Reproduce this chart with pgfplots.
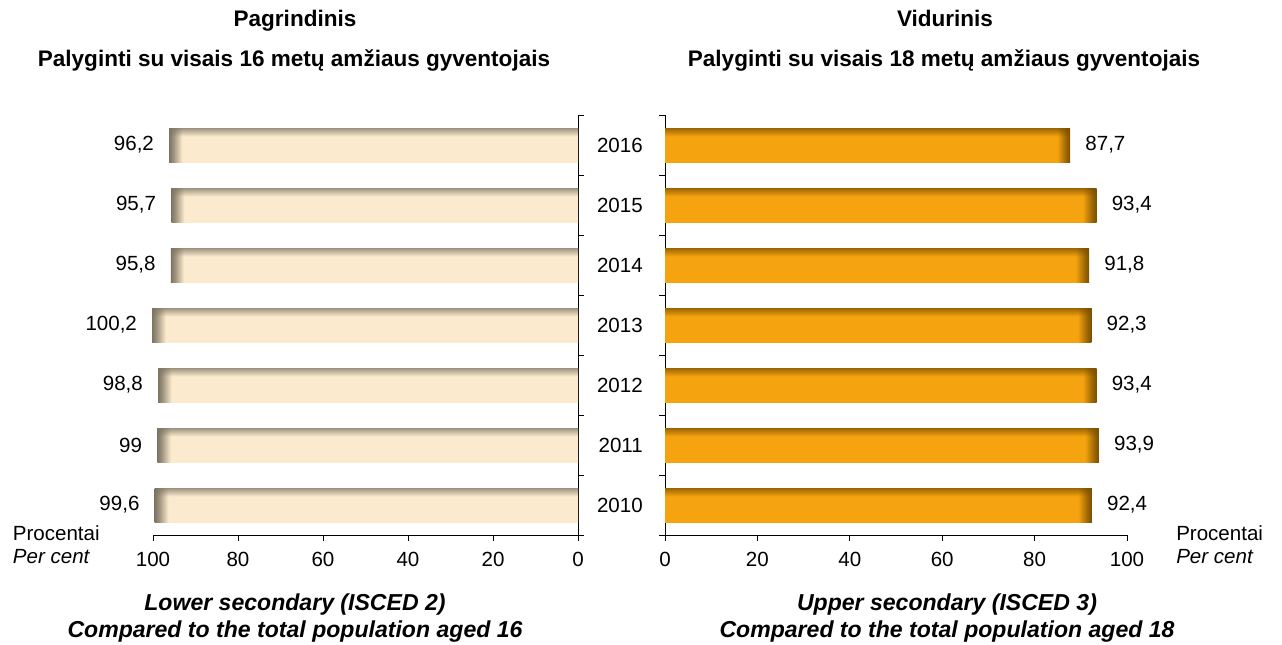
\documentclass[border=0pt]{standalone}
\usepackage{fontspec}
\setmainfont{Liberation Sans}
\usepackage{pgfplots}
\usepackage{pgfplotstable}
\pgfplotsset{compat=1.18}
\usetikzlibrary{fadings}

\definecolor{fillL}{HTML}{FBEACD}
\definecolor{shL}{HTML}{7D7463}
\definecolor{fillR}{HTML}{F5A30F}
\definecolor{shR}{HTML}{7A4F00}

\pgfdeclarehorizontalshading{leftend}{100bp}{color(0bp)=(shL); color(25bp)=(shL); color(25.5bp)=(shL!75!fillL); color(26.6bp)=(fillL); color(100bp)=(fillL)}
\pgfdeclarehorizontalshading{rightend}{100bp}{color(0bp)=(fillR); color(73.4bp)=(fillR); color(74.5bp)=(shR!75!fillR); color(75bp)=(shR); color(100bp)=(shR)}

\begin{tikzfadingfrompicture}[name=topedge]
\fill[transparent!100] (-1cm,-1cm) rectangle (1cm,1cm);
\shade[top color=transparent!5, bottom color=transparent!100] (-1cm,0.45cm) rectangle (1cm,1cm);
\end{tikzfadingfrompicture}

\newcommand\rf{\fontsize{15.4pt}{18pt}\selectfont}
\newcommand\tf{\fontsize{16.9pt}{20pt}\selectfont\bfseries}
\newcommand\btf{\fontsize{17.3pt}{21pt}\selectfont\bfseries\itshape}

\pgfplotstableread{
idx value
0 99.6
1 99
2 98.8
3 100.2
4 95.8
5 95.7
6 96.2
}\lefttable

\pgfplotstableread{
idx value
0 92.4
1 93.9
2 93.4
3 92.3
4 91.8
5 93.4
6 87.7
}\righttable

\pgfplotsset{
  base/.style={
    scale only axis, height=315pt,
    ymin=-0.5, ymax=6.5,
    ytick={-0.5,0.5,...,6.5}, yticklabels={},
    tick align=outside,
    major tick length=4.5pt,
    tick style={black, line width=0.6pt},
    axis line style={black, line width=0.6pt},
    axis x line*=bottom,
    tick label style={font=\rf},
    xticklabel style={anchor=north, inner sep=0pt, yshift=-8.25pt},
    /pgf/number format/use comma,
    /pgf/number format/1000 sep={},
    /pgf/number format/assume math mode=true,
    clip=false,
  }
}

\begin{document}
\begin{tikzpicture}
\path[use as bounding box] (0,0) rectangle (961.5pt,-483.75pt);

\begin{axis}[base, at={(114.75pt,-401.25pt)}, anchor=south west, width=318.75pt,
  xmin=-100, xmax=0, xtick={-100,-80,-60,-40,-20,0}, xticklabels={100,80,60,40,20,0},
  axis y line*=right]
\pgfplotsinvokeforeach{0,...,6}{
\addplot[xbar, bar shift=0pt, bar width=25.5pt, draw=none, shading=leftend,
  restrict y to domain=#1:#1,
  point meta=explicit, nodes near coords,
  every node near coord/.append style={font=\rf, text=black, inner sep=0pt, anchor=east, xshift=-11.25pt}]
  table[x expr=-\thisrow{value}, y=idx, meta=value] {\lefttable};
\addplot[xbar, bar shift=0pt, bar width=25.5pt, draw=none, fill=shL, path fading=topedge,
  restrict y to domain=#1:#1]
  table[x expr=-\thisrow{value}, y=idx] {\lefttable};
}
\end{axis}

\begin{axis}[base, at={(498.75pt,-401.25pt)}, anchor=south west, width=346.5pt,
  xmin=0, xmax=100, xtick={0,20,40,60,80,100},
  axis y line*=left,
  extra y ticks={0,1,2,3,4,5,6},
  extra y tick labels={2010,2011,2012,2013,2014,2015,2016},
  extra y tick style={major tick length=0pt, tick style={draw=none},
    yticklabel style={anchor=east, inner sep=0pt, xshift=-16.5pt}}]
\pgfplotsinvokeforeach{0,...,6}{
\addplot[xbar, bar shift=0pt, bar width=25.5pt, draw=none, shading=rightend,
  restrict y to domain=#1:#1,
  point meta=explicit, nodes near coords,
  every node near coord/.append style={font=\rf, text=black, inner sep=0pt, anchor=west, xshift=11.25pt}]
  table[x=value, y=idx, meta=value] {\righttable};
\addplot[xbar, bar shift=0pt, bar width=25.5pt, draw=none, fill=shR, path fading=topedge,
  restrict y to domain=#1:#1]
  table[x=value, y=idx] {\righttable};
}
\end{axis}

\node[anchor=base, font=\tf] at (221.25pt,-20.25pt) {Pagrindinis};
\node[anchor=base, font=\tf] at (220.5pt,-50.25pt) {Palyginti su visais 16 metų amžiaus gyventojais};
\node[anchor=base, font=\tf] at (708.75pt,-20.25pt) {Vidurinis};
\node[anchor=base, font=\tf] at (708pt,-50.25pt) {Palyginti su visais 18 metų amžiaus gyventojais};

\node[anchor=base, font=\btf] at (221.25pt,-457.5pt) {Lower secondary (ISCED 2)};
\node[anchor=base, font=\btf] at (221.25pt,-478pt) {Compared to the total population aged 16};
\node[anchor=base, font=\btf] at (710.25pt,-457.5pt) {Upper secondary (ISCED 3)};
\node[anchor=base, font=\btf] at (710.25pt,-478pt) {Compared to the total population aged 18};

\node[anchor=base west, font=\rf, inner sep=0pt] at (9.5pt,-405.5pt) {Procentai};
\node[anchor=base west, font=\rf\itshape, inner sep=0pt] at (9.5pt,-422.25pt) {Per cent};
\node[anchor=base west, font=\rf, inner sep=0pt] at (882pt,-405.5pt) {Procentai};
\node[anchor=base west, font=\rf\itshape, inner sep=0pt] at (882pt,-422.25pt) {Per cent};
\end{tikzpicture}
\end{document}
